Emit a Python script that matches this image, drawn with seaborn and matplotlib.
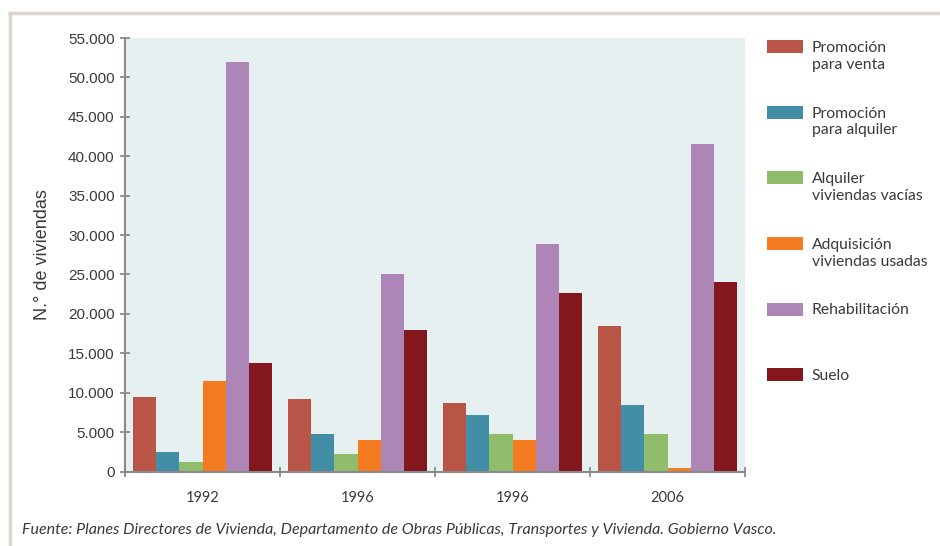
import numpy as np
import pandas as pd
import seaborn as sns
import matplotlib.pyplot as plt
import matplotlib.patches as mpatches
from matplotlib.lines import Line2D
from matplotlib.legend_handler import HandlerPatch
from matplotlib.ticker import FuncFormatter, FixedLocator

# Datos (n.º de viviendas por plan director)
periodos = ["1992", "1996", "1996", "2006"]
programas = ["Promoción para venta", "Promoción para alquiler", "Alquiler viviendas vacías",
             "Adquisición viviendas usadas", "Rehabilitación", "Suelo"]
etiquetas = ["Promoción\npara venta", "Promoción\npara alquiler", "Alquiler\nviviendas vacías",
             "Adquisición\nviviendas usadas", "Rehabilitación\n", "Suelo\n"]
colores = ["#B95546", "#428EA7", "#8FBD6B", "#F47B20", "#AD86B7", "#84171D"]

venta = [9500, 9200, 8700, 18500]
alquiler = [2500, 4800, 7200, 8400]
vacias = [1200, 2200, 4800, 4800]
usadas = [11500, 4000, 4000, 450]
rehabilitacion = [51900, 25000, 28900, 41500]
suelo = [13800, 18000, 22700, 24000]

series = [venta, alquiler, vacias, usadas, rehabilitacion, suelo]
filas = []
for nombre, valores in zip(programas, series):
    for i, v in enumerate(valores):
        filas.append({"grupo": i, "programa": nombre, "viviendas": v})
df = pd.DataFrame(filas)

sns.set_theme(style="ticks")
plt.rcParams["font.family"] = ["Liberation Sans", "DejaVu Sans"]
texto = "#3a3a3a"
gris = "#8a8a8a"

fig = plt.figure(figsize=(9.4, 5.46), dpi=100)
ax = fig.add_axes([125 / 940, 1 - 471.5 / 546, 620 / 940, 433.5 / 546])
ax.set_facecolor("#E7F0F1")

sns.barplot(data=df, x="grupo", y="viviendas", hue="programa", hue_order=programas,
            palette=colores, saturation=1, width=0.9, errorbar=None, linewidth=0, ax=ax)

ax.set_ylim(0, 55000)
ax.set_xlim(-0.5, 3.5)
ax.set_yticks(np.arange(0, 55001, 5000))
ax.yaxis.set_major_formatter(FuncFormatter(lambda v, p: f"{v:,.0f}".replace(",", ".")))
ax.tick_params(axis="y", direction="inout", length=7, width=1.3, color=gris,
               labelsize=11, labelcolor=texto, pad=4)

ax.set_xticks(range(len(periodos)))
ax.set_xticklabels(periodos, fontfamily="Lato", fontsize=10.5, color=texto)
ax.xaxis.set_minor_locator(FixedLocator(np.arange(-0.5, 4, 1)))
ax.tick_params(axis="x", which="major", length=0, pad=14)
ax.tick_params(axis="x", which="minor", direction="inout", length=7, width=1.3, color=gris)

ax.set_xlabel("")
ax.set_ylabel("N.° de viviendas", fontsize=13, color=texto, labelpad=12)

for lado in ["top", "right"]:
    ax.spines[lado].set_visible(False)
for lado in ["left", "bottom"]:
    ax.spines[lado].set_color(gris)
    ax.spines[lado].set_linewidth(1.5)


# leyenda: el cuadro de color alineado con la primera línea del texto
def parche_arriba(legend, orig_handle, xdescent, ydescent, width, height, fontsize):
    return mpatches.Rectangle((-xdescent, -ydescent + 0.62 * fontsize), width, height)


handles, _ = ax.get_legend_handles_labels()
ax.get_legend().remove()
fig.legend(handles, etiquetas, loc="upper left", bbox_to_anchor=(767 / 940, 1 - 41 / 546),
           frameon=False, borderaxespad=0, borderpad=0,
           prop={"family": "Lato", "size": 11.3}, labelcolor=texto,
           handlelength=2.3, handleheight=0.9, handletextpad=0.55, labelspacing=2.22,
           handler_map={mpatches.Rectangle: HandlerPatch(patch_func=parche_arriba)})
for t in fig.legends[0].get_texts():
    t.set_linespacing(1.25)

# marco claro del documento
marco = "#DDD5CF"
fig.add_artist(Line2D([9 / 940, 1], [1 - 13 / 546] * 2, color=marco, lw=2.5, transform=fig.transFigure))
fig.add_artist(Line2D([10 / 940] * 2, [0, 1 - 13 / 546], color=marco, lw=2.5, transform=fig.transFigure))

fig.text(22 / 940, 1 - 530 / 546,
         "Fuente: Planes Directores de Vivienda, Departamento de Obras Públicas, Transportes y Vivienda. Gobierno Vasco.",
         fontfamily="Lato", fontstyle="italic", fontsize=11.5, color=texto, va="center", ha="left")

fig.savefig("out.png", dpi=100)
